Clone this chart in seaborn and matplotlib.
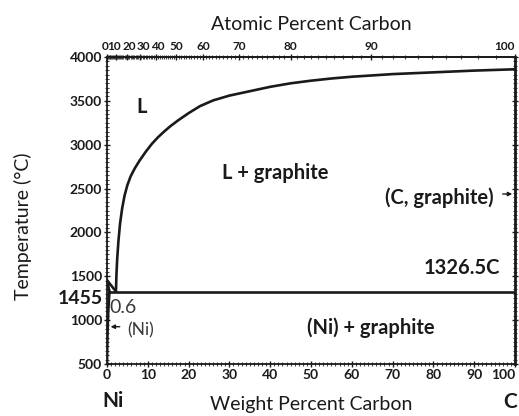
import numpy as np
import pandas as pd
import matplotlib
matplotlib.use("Agg")
import matplotlib.pyplot as plt
from matplotlib.ticker import MultipleLocator, FixedLocator
from matplotlib.transforms import ScaledTranslation
import seaborn as sns

# Ni-C phase diagram data (weight percent carbon, temperature in deg C)
liq_wt = [2.2, 2.3, 2.5, 2.8, 3.2, 3.7, 4.3, 5.0, 5.8, 6.8, 8.0, 9.5, 11.0, 12.5, 14.0, 15.5,
          17.5, 20.0, 22.8, 26.0, 30.0, 35.0, 40.0, 45.0, 50.0, 55.0, 60.0, 65.0, 70.0, 80.0, 90.0, 100.0]
liq_T = [1326.5, 1500, 1700, 1900, 2100, 2270, 2420, 2540, 2640, 2730, 2820, 2920, 3010, 3085, 3150, 3210,
         3280, 3360, 3440, 3505, 3560, 3610, 3660, 3700, 3730, 3755, 3775, 3790, 3805, 3825, 3845, 3860]

ni_liq_wt = [0.0, 2.2]
ni_liq_T = [1455, 1326.5]
solidus_wt = [0.0, 0.6]
solidus_T = [1455, 1326.5]
solvus_wt = [0.6, 0.3, 0.1, 0.0]
solvus_T = [1326.5, 1100, 800, 500]
eutectic_wt = [0.6, 100.0]
eutectic_T = [1326.5, 1326.5]

wt_ticks = [0, 10, 20, 30, 40, 50, 60, 70, 80, 90, 100]
T_ticks = [500, 1000, 1500, 2000, 2500, 3000, 3500, 4000]
at_ticks = [0, 10, 20, 30, 40, 50, 60, 70, 80, 90, 100]
at_labels = ["0", "10", "20", "30", "40", "50", "60", "70", "80", "90", "100"]
# small sideways nudges (points) so the crowded low-carbon labels stay legible
at_label_shift = [-1.5, -1.5, 1.5, 2.5, 1.0, 0, 0, 0, 0, 0, 0]

M_C, M_NI = 12.011, 58.69


def wt_to_at(w):
    w = np.clip(np.asarray(w, dtype=float), 0, 100)
    nc = w / M_C
    nn = (100 - w) / M_NI
    with np.errstate(divide="ignore", invalid="ignore"):
        return np.where(nc + nn > 0, 100 * nc / (nc + nn), 0)


def at_to_wt(a):
    a = np.clip(np.asarray(a, dtype=float), 0, 100)
    mc = a * M_C
    mn = (100 - a) * M_NI
    with np.errstate(divide="ignore", invalid="ignore"):
        return np.where(mc + mn > 0, 100 * mc / (mc + mn), 0)


sns.set_theme(style="ticks")
plt.rcParams["font.family"] = ["Lato", "DejaVu Sans"]

INK = "#1a1a1a"
fig = plt.figure(figsize=(5.19, 4.16), dpi=100)
ax = fig.add_axes([107 / 519, 1 - 364 / 416, 408 / 519, 307 / 416])

line_kw = dict(color=INK, linewidth=1.9, sort=False, estimator=None, ax=ax, legend=False)
for xs, ys in [(liq_wt, liq_T), (ni_liq_wt, ni_liq_T), (solidus_wt, solidus_T),
               (solvus_wt, solvus_T), (eutectic_wt, eutectic_T)]:
    sns.lineplot(data=pd.DataFrame({"w": xs, "T": ys}), x="w", y="T", **line_kw)

ax.set_xlim(0, 100)
ax.set_ylim(500, 4000)
ax.xaxis.set_major_locator(FixedLocator(wt_ticks))
ax.yaxis.set_major_locator(FixedLocator(T_ticks))
ax.xaxis.set_minor_locator(MultipleLocator(1))
ax.yaxis.set_minor_locator(MultipleLocator(50))
ax.tick_params(which="major", direction="inout", length=5, width=1.0, labelsize=10, pad=1, colors=INK)
ax.tick_params(which="minor", direction="inout", length=2.5, width=0.8, colors="#444444")
ax.tick_params(axis="y", which="both", right=True)
for lab in ax.get_xticklabels() + ax.get_yticklabels():
    lab.set_fontweight("bold")
ax.get_xticklabels()[-1].set_horizontalalignment("right")
for s in ax.spines.values():
    s.set_linewidth(1.3)
    s.set_color(INK)
ax.spines["right"].set_linewidth(2.0)

ax.set_xlabel("Weight Percent Carbon", fontsize=14, labelpad=11, color=INK)
ax.set_ylabel("Temperature (°C)", fontsize=14, color=INK)
ax.yaxis.set_label_coords(-0.185, 0.45)

top = ax.secondary_xaxis("top", functions=(wt_to_at, at_to_wt))
top.xaxis.set_major_locator(FixedLocator(at_ticks))
top.set_xticklabels(at_labels)
top.xaxis.set_minor_locator(FixedLocator(np.arange(0, 100, 1)))
top.tick_params(which="major", direction="inout", length=5, width=1.0, labelsize=8.5, pad=1, colors=INK)
top.tick_params(which="minor", direction="inout", length=2.5, width=0.8, colors="#444444")
top_labels = top.get_xticklabels()
for lab, dx in zip(top_labels, at_label_shift):
    lab.set_fontweight("bold")
    lab.set_transform(lab.get_transform() + ScaledTranslation(dx / 72, 0, fig.dpi_scale_trans))
top_labels[-1].set_horizontalalignment("right")
top.spines["top"].set_linewidth(1.3)
top.set_xlabel("Atomic Percent Carbon", fontsize=14, labelpad=8, color=INK)

txt = dict(color=INK, fontweight="bold")
ax.text(8.6, 3430, "L", fontsize=14.5, ha="center", va="center", **txt)
ax.text(41.2, 2678, "L + graphite", fontsize=14.5, ha="center", va="center", **txt)
ax.text(81.5, 2400, "(C, graphite)", fontsize=14.5, ha="center", va="center", **txt)
ax.text(87.0, 1595, "1326.5C", fontsize=14.5, ha="center", va="center", **txt)
ax.text(64.7, 909, "(Ni) + graphite", fontsize=14.5, ha="center", va="center", **txt)
ax.text(-6.5, 1250, "1455", fontsize=14, ha="center", va="center", clip_on=False, **txt)
ax.text(4.0, 1140, "0.6", fontsize=14, ha="center", va="center", color="#3a3a3a")
ax.text(8.2, 888, "(Ni)", fontsize=12.5, ha="center", va="center", color="#3a3a3a")
ax.text(1.5, 80, "Ni", fontsize=15, ha="center", va="center", clip_on=False, **txt)
ax.text(98.8, 70, "C", fontsize=15, ha="center", va="center", clip_on=False, **txt)

ax.annotate("", xy=(0.2, 925), xytext=(3.8, 925),
            arrowprops=dict(arrowstyle="-|>", color=INK, lw=1.0, mutation_scale=6))
ax.annotate("", xy=(100, 2438), xytext=(96.3, 2438),
            arrowprops=dict(arrowstyle="-|>", color=INK, lw=1.0, mutation_scale=6))

fig.savefig("out.png", dpi=100)
